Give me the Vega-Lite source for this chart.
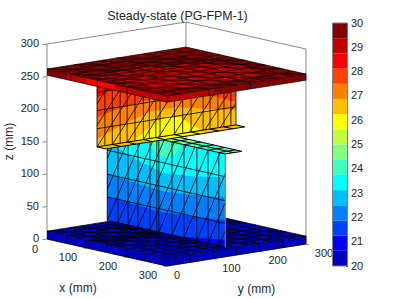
{"$schema":"https://vega.github.io/schema/vega-lite/v6.json","width":399,"height":299,"padding":0,"autosize":{"type":"none"},"background":"white","config":{"view":{"stroke":null}},
"title":{"text":"Steady-state (PG-FPM-1)","font":"Liberation Sans","fontSize":12.4,"fontWeight":"normal","color":"#262626","offset":-22,"dx":-22,"anchor":"middle"},
"data":{"values":[
{"g":"box","id":"b1","x":0,"y":300,"z":0},{"g":"box","id":"b1","x":0,"y":300,"z":300},
{"g":"box","id":"b2","x":0,"y":0,"z":0},{"g":"box","id":"b2","x":0,"y":0,"z":300},{"g":"box","id":"b2","x":0,"y":300,"z":300},{"g":"box","id":"b2","x":300,"y":300,"z":300},{"g":"box","id":"b2","x":300,"y":300,"z":0},{"g":"box","id":"b2","x":300,"y":0,"z":0},{"g":"box","id":"b2","x":0,"y":0,"z":0},
{"g":"box","id":"z0","x":0,"y":-10,"z":0},{"g":"box","id":"z0","x":0,"y":0,"z":0},{"g":"box","id":"z1","x":0,"y":-10,"z":50},{"g":"box","id":"z1","x":0,"y":0,"z":50},{"g":"box","id":"z2","x":0,"y":-10,"z":100},{"g":"box","id":"z2","x":0,"y":0,"z":100},{"g":"box","id":"z3","x":0,"y":-10,"z":150},{"g":"box","id":"z3","x":0,"y":0,"z":150},{"g":"box","id":"z4","x":0,"y":-10,"z":200},{"g":"box","id":"z4","x":0,"y":0,"z":200},{"g":"box","id":"z5","x":0,"y":-10,"z":250},{"g":"box","id":"z5","x":0,"y":0,"z":250},{"g":"box","id":"z6","x":0,"y":-10,"z":300},{"g":"box","id":"z6","x":0,"y":0,"z":300},
{"g":"box","id":"x1","x":100,"y":-7,"z":0},{"g":"box","id":"x1","x":100,"y":0,"z":0},{"g":"box","id":"x2","x":200,"y":-7,"z":0},{"g":"box","id":"x2","x":200,"y":0,"z":0},{"g":"box","id":"x3","x":300,"y":-7,"z":0},{"g":"box","id":"x3","x":300,"y":0,"z":0},
{"g":"box","id":"y1","x":308,"y":100,"z":0},{"g":"box","id":"y1","x":300,"y":100,"z":0},{"g":"box","id":"y2","x":308,"y":200,"z":0},{"g":"box","id":"y2","x":300,"y":200,"z":0},{"g":"box","id":"y3","x":308,"y":300,"z":0},{"g":"box","id":"y3","x":300,"y":300,"z":0},

{"g":"floor","id":"s1","band":1,"x":0,"y":0,"z":0},{"g":"floor","id":"s1","band":1,"x":300,"y":0,"z":0},{"g":"floor","id":"s1","band":1,"x":300,"y":0,"z":12},{"g":"floor","id":"s1","band":1,"x":0,"y":0,"z":12},
{"g":"floor","id":"s2","band":1,"x":300,"y":0,"z":0},{"g":"floor","id":"s2","band":1,"x":300,"y":300,"z":0},{"g":"floor","id":"s2","band":1,"x":300,"y":300,"z":12},{"g":"floor","id":"s2","band":1,"x":300,"y":0,"z":12},
{"g":"floor","id":"t","band":1,"x":0,"y":0,"z":12},{"g":"floor","id":"t","band":1,"x":300,"y":0,"z":12},{"g":"floor","id":"t","band":1,"x":300,"y":300,"z":12},{"g":"floor","id":"t","band":1,"x":0,"y":300,"z":12},
{"g":"floor","id":"p","band":2,"x":220,"y":100,"z":12},{"g":"floor","id":"p","band":2,"x":300,"y":100,"z":12},{"g":"floor","id":"p","band":2,"x":300,"y":165,"z":12},{"g":"floor","id":"p","band":2,"x":220,"y":165,"z":12},

{"g":"fm","id":"x0","x":0,"y":0,"z":12},{"g":"fm","id":"x0","x":0,"y":300,"z":12},{"g":"fm","id":"x25","x":25,"y":0,"z":12},{"g":"fm","id":"x25","x":25,"y":300,"z":12},{"g":"fm","id":"x50","x":50,"y":0,"z":12},{"g":"fm","id":"x50","x":50,"y":300,"z":12},{"g":"fm","id":"x75","x":75,"y":0,"z":12},{"g":"fm","id":"x75","x":75,"y":300,"z":12},{"g":"fm","id":"x100","x":100,"y":0,"z":12},{"g":"fm","id":"x100","x":100,"y":300,"z":12},{"g":"fm","id":"x115","x":115,"y":0,"z":12},{"g":"fm","id":"x115","x":115,"y":300,"z":12},{"g":"fm","id":"x125","x":125,"y":0,"z":12},{"g":"fm","id":"x125","x":125,"y":300,"z":12},{"g":"fm","id":"x135","x":135,"y":0,"z":12},{"g":"fm","id":"x135","x":135,"y":300,"z":12},{"g":"fm","id":"x150","x":150,"y":0,"z":12},{"g":"fm","id":"x150","x":150,"y":300,"z":12},{"g":"fm","id":"x175","x":175,"y":0,"z":12},{"g":"fm","id":"x175","x":175,"y":300,"z":12},{"g":"fm","id":"x200","x":200,"y":0,"z":12},{"g":"fm","id":"x200","x":200,"y":300,"z":12},{"g":"fm","id":"x225","x":225,"y":0,"z":12},{"g":"fm","id":"x225","x":225,"y":300,"z":12},{"g":"fm","id":"x250","x":250,"y":0,"z":12},{"g":"fm","id":"x250","x":250,"y":300,"z":12},{"g":"fm","id":"x275","x":275,"y":0,"z":12},{"g":"fm","id":"x275","x":275,"y":300,"z":12},{"g":"fm","id":"x300","x":300,"y":0,"z":12},{"g":"fm","id":"x300","x":300,"y":300,"z":12},
{"g":"fm","id":"y0","x":0,"y":0,"z":12},{"g":"fm","id":"y0","x":300,"y":0,"z":12},{"g":"fm","id":"y25","x":0,"y":25,"z":12},{"g":"fm","id":"y25","x":300,"y":25,"z":12},{"g":"fm","id":"y50","x":0,"y":50,"z":12},{"g":"fm","id":"y50","x":300,"y":50,"z":12},{"g":"fm","id":"y75","x":0,"y":75,"z":12},{"g":"fm","id":"y75","x":300,"y":75,"z":12},{"g":"fm","id":"y100","x":0,"y":100,"z":12},{"g":"fm","id":"y100","x":300,"y":100,"z":12},{"g":"fm","id":"y115","x":0,"y":115,"z":12},{"g":"fm","id":"y115","x":300,"y":115,"z":12},{"g":"fm","id":"y125","x":0,"y":125,"z":12},{"g":"fm","id":"y125","x":300,"y":125,"z":12},{"g":"fm","id":"y135","x":0,"y":135,"z":12},{"g":"fm","id":"y135","x":300,"y":135,"z":12},{"g":"fm","id":"y150","x":0,"y":150,"z":12},{"g":"fm","id":"y150","x":300,"y":150,"z":12},{"g":"fm","id":"y175","x":0,"y":175,"z":12},{"g":"fm","id":"y175","x":300,"y":175,"z":12},{"g":"fm","id":"y200","x":0,"y":200,"z":12},{"g":"fm","id":"y200","x":300,"y":200,"z":12},{"g":"fm","id":"y225","x":0,"y":225,"z":12},{"g":"fm","id":"y225","x":300,"y":225,"z":12},{"g":"fm","id":"y250","x":0,"y":250,"z":12},{"g":"fm","id":"y250","x":300,"y":250,"z":12},{"g":"fm","id":"y275","x":0,"y":275,"z":12},{"g":"fm","id":"y275","x":300,"y":275,"z":12},{"g":"fm","id":"y300","x":0,"y":300,"z":12},{"g":"fm","id":"y300","x":300,"y":300,"z":12},
{"g":"fm","id":"d1","x":0,"y":50,"z":12},{"g":"fm","id":"d1","x":250,"y":300,"z":12},{"g":"fm","id":"d2","x":0,"y":150,"z":12},{"g":"fm","id":"d2","x":150,"y":300,"z":12},{"g":"fm","id":"d3","x":50,"y":0,"z":12},{"g":"fm","id":"d3","x":300,"y":250,"z":12},{"g":"fm","id":"d4","x":150,"y":0,"z":12},{"g":"fm","id":"d4","x":300,"y":150,"z":12},{"g":"fm","id":"d5","x":0,"y":0,"z":12},{"g":"fm","id":"d5","x":300,"y":300,"z":12},{"g":"fm","id":"d6","x":100,"y":0,"z":12},{"g":"fm","id":"d6","x":300,"y":200,"z":12},
{"g":"fm","id":"e1","x":0,"y":0,"z":0},{"g":"fm","id":"e1","x":300,"y":0,"z":0},{"g":"fm","id":"e1","x":300,"y":300,"z":0},{"g":"fm","id":"e1","x":300,"y":300,"z":12},
{"g":"fm","id":"v1","x":50,"y":0,"z":0},{"g":"fm","id":"v1","x":50,"y":0,"z":12},{"g":"fm","id":"v2","x":100,"y":0,"z":0},{"g":"fm","id":"v2","x":100,"y":0,"z":12},{"g":"fm","id":"v3","x":150,"y":0,"z":0},{"g":"fm","id":"v3","x":150,"y":0,"z":12},{"g":"fm","id":"v4","x":200,"y":0,"z":0},{"g":"fm","id":"v4","x":200,"y":0,"z":12},{"g":"fm","id":"v5","x":250,"y":0,"z":0},{"g":"fm","id":"v5","x":250,"y":0,"z":12},{"g":"fm","id":"v6","x":300,"y":0,"z":0},{"g":"fm","id":"v6","x":300,"y":0,"z":12},
{"g":"fm","id":"w1","x":300,"y":50,"z":0},{"g":"fm","id":"w1","x":300,"y":50,"z":12},{"g":"fm","id":"w2","x":300,"y":100,"z":0},{"g":"fm","id":"w2","x":300,"y":100,"z":12},{"g":"fm","id":"w3","x":300,"y":150,"z":0},{"g":"fm","id":"w3","x":300,"y":150,"z":12},{"g":"fm","id":"w4","x":300,"y":200,"z":0},{"g":"fm","id":"w4","x":300,"y":200,"z":12},{"g":"fm","id":"w5","x":300,"y":250,"z":0},{"g":"fm","id":"w5","x":300,"y":250,"z":12},

{"g":"low","id":"b3","band":3,"x":0,"y":130,"z":14},{"g":"low","id":"b3","band":3,"x":295,"y":130,"z":14},{"g":"low","id":"b3","band":3,"x":295,"y":130,"z":157},{"g":"low","id":"b3","band":3,"x":0,"y":130,"z":157},
{"g":"low","id":"b2","band":2,"x":180,"y":130,"z":14},{"g":"low","id":"b2","band":2,"x":295,"y":130,"z":14},{"g":"low","id":"b2","band":2,"x":295,"y":130,"z":25},
{"g":"low","id":"b4","band":4,"x":0,"y":130,"z":50},{"g":"low","id":"b4","band":4,"x":70,"y":130,"z":48},{"g":"low","id":"b4","band":4,"x":140,"y":130,"z":46},{"g":"low","id":"b4","band":4,"x":220,"y":130,"z":50},{"g":"low","id":"b4","band":4,"x":295,"y":130,"z":55},{"g":"low","id":"b4","band":4,"x":295,"y":130,"z":157},{"g":"low","id":"b4","band":4,"x":0,"y":130,"z":157},
{"g":"low","id":"b5","band":5,"x":0,"y":130,"z":87},{"g":"low","id":"b5","band":5,"x":70,"y":130,"z":81},{"g":"low","id":"b5","band":5,"x":140,"y":130,"z":78},{"g":"low","id":"b5","band":5,"x":220,"y":130,"z":83},{"g":"low","id":"b5","band":5,"x":295,"y":130,"z":90},{"g":"low","id":"b5","band":5,"x":295,"y":130,"z":157},{"g":"low","id":"b5","band":5,"x":0,"y":130,"z":157},
{"g":"low","id":"b6","band":6,"x":0,"y":130,"z":135},{"g":"low","id":"b6","band":6,"x":70,"y":130,"z":118},{"g":"low","id":"b6","band":6,"x":140,"y":130,"z":106},{"g":"low","id":"b6","band":6,"x":220,"y":130,"z":112},{"g":"low","id":"b6","band":6,"x":295,"y":130,"z":121},{"g":"low","id":"b6","band":6,"x":295,"y":130,"z":157},{"g":"low","id":"b6","band":6,"x":0,"y":130,"z":157},
{"g":"low","id":"b7","band":7,"x":95,"y":130,"z":157},{"g":"low","id":"b7","band":7,"x":115,"y":130,"z":138},{"g":"low","id":"b7","band":7,"x":140,"y":130,"z":129},{"g":"low","id":"b7","band":7,"x":165,"y":130,"z":135},{"g":"low","id":"b7","band":7,"x":190,"y":130,"z":157},

{"g":"lm","id":"v0","x":0,"y":130,"z":14},{"g":"lm","id":"v0","x":0,"y":130,"z":157},{"g":"lm","id":"v1","x":27,"y":130,"z":14},{"g":"lm","id":"v1","x":27,"y":130,"z":157},{"g":"lm","id":"v2","x":52,"y":130,"z":14},{"g":"lm","id":"v2","x":52,"y":130,"z":157},{"g":"lm","id":"v3","x":77,"y":130,"z":14},{"g":"lm","id":"v3","x":77,"y":130,"z":157},{"g":"lm","id":"v4","x":107,"y":130,"z":14},{"g":"lm","id":"v4","x":107,"y":130,"z":157},{"g":"lm","id":"v5","x":124,"y":130,"z":14},{"g":"lm","id":"v5","x":124,"y":130,"z":157},{"g":"lm","id":"v6","x":129,"y":130,"z":14},{"g":"lm","id":"v6","x":129,"y":130,"z":157},{"g":"lm","id":"v7","x":162,"y":130,"z":14},{"g":"lm","id":"v7","x":162,"y":130,"z":157},{"g":"lm","id":"v8","x":192,"y":130,"z":14},{"g":"lm","id":"v8","x":192,"y":130,"z":157},{"g":"lm","id":"v9","x":224,"y":130,"z":14},{"g":"lm","id":"v9","x":224,"y":130,"z":157},{"g":"lm","id":"v10","x":252,"y":130,"z":14},{"g":"lm","id":"v10","x":252,"y":130,"z":157},{"g":"lm","id":"v11","x":279,"y":130,"z":14},{"g":"lm","id":"v11","x":279,"y":130,"z":157},
{"g":"lm","id":"h1","x":0,"y":130,"z":14},{"g":"lm","id":"h1","x":295,"y":130,"z":14},{"g":"lm","id":"h2","x":0,"y":130,"z":50},{"g":"lm","id":"h2","x":295,"y":130,"z":50},{"g":"lm","id":"h3","x":0,"y":130,"z":85},{"g":"lm","id":"h3","x":295,"y":130,"z":85},{"g":"lm","id":"h4","x":0,"y":130,"z":122},{"g":"lm","id":"h4","x":295,"y":130,"z":122},
{"g":"lm","id":"d1","x":0,"y":130,"z":109},{"g":"lm","id":"d1","x":30,"y":130,"z":157},{"g":"lm","id":"d2","x":0,"y":130,"z":62},{"g":"lm","id":"d2","x":60,"y":130,"z":157},{"g":"lm","id":"d3","x":0,"y":130,"z":14},{"g":"lm","id":"d3","x":90,"y":130,"z":157},{"g":"lm","id":"d4","x":27,"y":130,"z":14},{"g":"lm","id":"d4","x":117,"y":130,"z":157},{"g":"lm","id":"d5","x":52,"y":130,"z":14},{"g":"lm","id":"d5","x":142,"y":130,"z":157},{"g":"lm","id":"d6","x":77,"y":130,"z":14},{"g":"lm","id":"d6","x":167,"y":130,"z":157},{"g":"lm","id":"d7","x":107,"y":130,"z":14},{"g":"lm","id":"d7","x":197,"y":130,"z":157},{"g":"lm","id":"d8","x":129,"y":130,"z":14},{"g":"lm","id":"d8","x":219,"y":130,"z":157},{"g":"lm","id":"d9","x":162,"y":130,"z":14},{"g":"lm","id":"d9","x":252,"y":130,"z":157},{"g":"lm","id":"d10","x":192,"y":130,"z":14},{"g":"lm","id":"d10","x":282,"y":130,"z":157},{"g":"lm","id":"d11","x":224,"y":130,"z":14},{"g":"lm","id":"d11","x":295,"y":130,"z":127},{"g":"lm","id":"d12","x":252,"y":130,"z":14},{"g":"lm","id":"d12","x":295,"y":130,"z":82},{"g":"lm","id":"d13","x":279,"y":130,"z":14},{"g":"lm","id":"d13","x":295,"y":130,"z":39},
{"g":"edge","id":"r","x":295,"y":130,"z":14},{"g":"edge","id":"r","x":295,"y":130,"z":157},

{"g":"lp","id":"a","band":8,"x":0,"y":130,"z":157},{"g":"lp","id":"a","band":8,"x":190,"y":130,"z":157},{"g":"lp","id":"a","band":8,"x":190,"y":166,"z":157},{"g":"lp","id":"a","band":8,"x":0,"y":166,"z":157},
{"g":"lp","id":"b","band":7,"x":190,"y":130,"z":157},{"g":"lp","id":"b","band":7,"x":295,"y":130,"z":157},{"g":"lp","id":"b","band":7,"x":295,"y":166,"z":157},{"g":"lp","id":"b","band":7,"x":190,"y":166,"z":157},
{"g":"lpm","id":"o","x":0,"y":130,"z":157},{"g":"lpm","id":"o","x":295,"y":130,"z":157},{"g":"lpm","id":"o","x":295,"y":166,"z":157},{"g":"lpm","id":"o","x":0,"y":166,"z":157},
{"g":"lpm","id":"m","x":0,"y":148,"z":157},{"g":"lpm","id":"m","x":295,"y":148,"z":157},
{"g":"lpm","id":"c1","x":162,"y":130,"z":157},{"g":"lpm","id":"c1","x":162,"y":166,"z":157},{"g":"lpm","id":"c2","x":192,"y":130,"z":157},{"g":"lpm","id":"c2","x":192,"y":166,"z":157},{"g":"lpm","id":"c3","x":224,"y":130,"z":157},{"g":"lpm","id":"c3","x":224,"y":166,"z":157},{"g":"lpm","id":"c4","x":252,"y":130,"z":157},{"g":"lpm","id":"c4","x":252,"y":166,"z":157},{"g":"lpm","id":"c5","x":279,"y":130,"z":157},{"g":"lpm","id":"c5","x":279,"y":166,"z":157},

{"g":"up","id":"b13","band":13,"x":125,"y":0,"z":159},{"g":"up","id":"b13","band":13,"x":125,"y":300,"z":159},{"g":"up","id":"b13","band":13,"x":125,"y":300,"z":252},{"g":"up","id":"b13","band":13,"x":125,"y":0,"z":252},
{"g":"up","id":"b14","band":14,"x":125,"y":0,"z":252},{"g":"up","id":"b14","band":14,"x":125,"y":60,"z":252},{"g":"up","id":"b14","band":14,"x":125,"y":0,"z":235},
{"g":"up","id":"b12","band":12,"x":125,"y":0,"z":159},{"g":"up","id":"b12","band":12,"x":125,"y":300,"z":159},{"g":"up","id":"b12","band":12,"x":125,"y":300,"z":194},{"g":"up","id":"b12","band":12,"x":125,"y":255,"z":208},{"g":"up","id":"b12","band":12,"x":125,"y":170,"z":218},{"g":"up","id":"b12","band":12,"x":125,"y":100,"z":218},{"g":"up","id":"b12","band":12,"x":125,"y":50,"z":213},{"g":"up","id":"b12","band":12,"x":125,"y":0,"z":205},
{"g":"up","id":"b11","band":11,"x":125,"y":0,"z":159},{"g":"up","id":"b11","band":11,"x":125,"y":300,"z":159},{"g":"up","id":"b11","band":11,"x":125,"y":300,"z":182},{"g":"up","id":"b11","band":11,"x":125,"y":255,"z":188},{"g":"up","id":"b11","band":11,"x":125,"y":168,"z":201},{"g":"up","id":"b11","band":11,"x":125,"y":112,"z":200},{"g":"up","id":"b11","band":11,"x":125,"y":50,"z":185},{"g":"up","id":"b11","band":11,"x":125,"y":0,"z":171},
{"g":"up","id":"b10","band":10,"x":125,"y":78,"z":159},{"g":"up","id":"b10","band":10,"x":125,"y":125,"z":183},{"g":"up","id":"b10","band":10,"x":125,"y":157,"z":190},{"g":"up","id":"b10","band":10,"x":125,"y":180,"z":184},{"g":"up","id":"b10","band":10,"x":125,"y":205,"z":170},{"g":"up","id":"b10","band":10,"x":125,"y":225,"z":159},

{"g":"um","id":"v0","x":125,"y":0,"z":159},{"g":"um","id":"v0","x":125,"y":0,"z":252},{"g":"um","id":"v1","x":125,"y":17,"z":159},{"g":"um","id":"v1","x":125,"y":17,"z":252},{"g":"um","id":"v2","x":125,"y":33,"z":159},{"g":"um","id":"v2","x":125,"y":33,"z":252},{"g":"um","id":"v3","x":125,"y":50,"z":159},{"g":"um","id":"v3","x":125,"y":50,"z":252},{"g":"um","id":"v4","x":125,"y":65,"z":159},{"g":"um","id":"v4","x":125,"y":65,"z":252},{"g":"um","id":"v5","x":125,"y":82,"z":159},{"g":"um","id":"v5","x":125,"y":82,"z":252},{"g":"um","id":"v6","x":125,"y":100,"z":159},{"g":"um","id":"v6","x":125,"y":100,"z":252},{"g":"um","id":"v7","x":125,"y":113,"z":159},{"g":"um","id":"v7","x":125,"y":113,"z":252},{"g":"um","id":"v8","x":125,"y":127,"z":159},{"g":"um","id":"v8","x":125,"y":127,"z":252},{"g":"um","id":"v9","x":125,"y":136,"z":159},{"g":"um","id":"v9","x":125,"y":136,"z":252},{"g":"um","id":"v10","x":125,"y":167,"z":159},{"g":"um","id":"v10","x":125,"y":167,"z":252},{"g":"um","id":"v11","x":125,"y":185,"z":159},{"g":"um","id":"v11","x":125,"y":185,"z":252},{"g":"um","id":"v12","x":125,"y":203,"z":159},{"g":"um","id":"v12","x":125,"y":203,"z":252},{"g":"um","id":"v13","x":125,"y":229,"z":159},{"g":"um","id":"v13","x":125,"y":229,"z":252},{"g":"um","id":"v14","x":125,"y":244,"z":159},{"g":"um","id":"v14","x":125,"y":244,"z":252},{"g":"um","id":"v15","x":125,"y":261,"z":159},{"g":"um","id":"v15","x":125,"y":261,"z":252},{"g":"um","id":"v16","x":125,"y":274,"z":159},{"g":"um","id":"v16","x":125,"y":274,"z":252},{"g":"um","id":"v17","x":125,"y":289,"z":159},{"g":"um","id":"v17","x":125,"y":289,"z":252},{"g":"um","id":"v18","x":125,"y":300,"z":159},{"g":"um","id":"v18","x":125,"y":300,"z":252},
{"g":"um","id":"h1","x":125,"y":0,"z":187},{"g":"um","id":"h1","x":125,"y":300,"z":187},{"g":"um","id":"h2","x":125,"y":0,"z":215},{"g":"um","id":"h2","x":125,"y":300,"z":215},{"g":"um","id":"h3","x":125,"y":0,"z":243},{"g":"um","id":"h3","x":125,"y":300,"z":243},
{"g":"um","id":"d1","x":125,"y":0,"z":225},{"g":"um","id":"d1","x":125,"y":27,"z":252},{"g":"um","id":"d2","x":125,"y":0,"z":192},{"g":"um","id":"d2","x":125,"y":60,"z":252},{"g":"um","id":"d3","x":125,"y":0,"z":159},{"g":"um","id":"d3","x":125,"y":93,"z":252},{"g":"um","id":"d4","x":125,"y":33,"z":159},{"g":"um","id":"d4","x":125,"y":126,"z":252},{"g":"um","id":"d5","x":125,"y":66,"z":159},{"g":"um","id":"d5","x":125,"y":159,"z":252},{"g":"um","id":"d6","x":125,"y":100,"z":159},{"g":"um","id":"d6","x":125,"y":193,"z":252},{"g":"um","id":"d7","x":125,"y":133,"z":159},{"g":"um","id":"d7","x":125,"y":226,"z":252},{"g":"um","id":"d8","x":125,"y":166,"z":159},{"g":"um","id":"d8","x":125,"y":259,"z":252},{"g":"um","id":"d9","x":125,"y":200,"z":159},{"g":"um","id":"d9","x":125,"y":293,"z":252},{"g":"um","id":"d10","x":125,"y":233,"z":159},{"g":"um","id":"d10","x":125,"y":300,"z":226},{"g":"um","id":"d11","x":125,"y":266,"z":159},{"g":"um","id":"d11","x":125,"y":300,"z":193},

{"g":"fl","id":"a","band":11,"x":125,"y":0,"z":159},{"g":"fl","id":"a","band":11,"x":147,"y":0,"z":159},{"g":"fl","id":"a","band":11,"x":147,"y":300,"z":159},{"g":"fl","id":"a","band":11,"x":125,"y":300,"z":159},
{"g":"fl","id":"b","band":10,"x":125,"y":95,"z":159},{"g":"fl","id":"b","band":10,"x":147,"y":95,"z":159},{"g":"fl","id":"b","band":10,"x":147,"y":215,"z":159},{"g":"fl","id":"b","band":10,"x":125,"y":215,"z":159},
{"g":"flm","id":"o","x":125,"y":0,"z":159},{"g":"flm","id":"o","x":147,"y":0,"z":159},{"g":"flm","id":"o","x":147,"y":300,"z":159},{"g":"flm","id":"o","x":125,"y":300,"z":159},{"g":"flm","id":"o","x":125,"y":0,"z":159},
{"g":"flm","id":"c1","x":125,"y":33,"z":159},{"g":"flm","id":"c1","x":147,"y":33,"z":159},{"g":"flm","id":"c2","x":125,"y":65,"z":159},{"g":"flm","id":"c2","x":147,"y":65,"z":159},{"g":"flm","id":"c3","x":125,"y":100,"z":159},{"g":"flm","id":"c3","x":147,"y":100,"z":159},{"g":"flm","id":"c4","x":125,"y":127,"z":159},{"g":"flm","id":"c4","x":147,"y":127,"z":159},{"g":"flm","id":"c5","x":125,"y":167,"z":159},{"g":"flm","id":"c5","x":147,"y":167,"z":159},{"g":"flm","id":"c6","x":125,"y":203,"z":159},{"g":"flm","id":"c6","x":147,"y":203,"z":159},{"g":"flm","id":"c7","x":125,"y":244,"z":159},{"g":"flm","id":"c7","x":147,"y":244,"z":159},{"g":"flm","id":"c8","x":125,"y":274,"z":159},{"g":"flm","id":"c8","x":147,"y":274,"z":159},

{"g":"slab","id":"s1","band":16,"x":0,"y":0,"z":252},{"g":"slab","id":"s1","band":16,"x":50,"y":0,"z":252},{"g":"slab","id":"s1","band":16,"x":50,"y":0,"z":261.5},{"g":"slab","id":"s1","band":16,"x":0,"y":0,"z":261.5},
{"g":"slab","id":"s2","band":15,"x":50,"y":0,"z":252},{"g":"slab","id":"s2","band":15,"x":300,"y":0,"z":252},{"g":"slab","id":"s2","band":15,"x":300,"y":0,"z":261.5},{"g":"slab","id":"s2","band":15,"x":50,"y":0,"z":261.5},
{"g":"slab","id":"s3","band":14,"x":100,"y":0,"z":252},{"g":"slab","id":"s3","band":14,"x":170,"y":0,"z":252},{"g":"slab","id":"s3","band":14,"x":170,"y":0,"z":261.5},{"g":"slab","id":"s3","band":14,"x":100,"y":0,"z":261.5},
{"g":"slab","id":"s4","band":15,"x":300,"y":0,"z":252},{"g":"slab","id":"s4","band":15,"x":300,"y":100,"z":252},{"g":"slab","id":"s4","band":15,"x":300,"y":100,"z":261.5},{"g":"slab","id":"s4","band":15,"x":300,"y":0,"z":261.5},
{"g":"slab","id":"s5","band":16,"x":300,"y":100,"z":252},{"g":"slab","id":"s5","band":16,"x":300,"y":300,"z":252},{"g":"slab","id":"s5","band":16,"x":300,"y":300,"z":261.5},{"g":"slab","id":"s5","band":16,"x":300,"y":100,"z":261.5},
{"g":"slab","id":"t","band":16,"x":0,"y":0,"z":261.5},{"g":"slab","id":"t","band":16,"x":300,"y":0,"z":261.5},{"g":"slab","id":"t","band":16,"x":300,"y":300,"z":261.5},{"g":"slab","id":"t","band":16,"x":0,"y":300,"z":261.5},
{"g":"slab","id":"h","band":15,"x":100,"y":20,"z":261.5},{"g":"slab","id":"h","band":15,"x":90,"y":120,"z":261.5},{"g":"slab","id":"h","band":15,"x":110,"y":220,"z":261.5},{"g":"slab","id":"h","band":15,"x":180,"y":265,"z":261.5},{"g":"slab","id":"h","band":15,"x":260,"y":240,"z":261.5},{"g":"slab","id":"h","band":15,"x":270,"y":100,"z":261.5},{"g":"slab","id":"h","band":15,"x":250,"y":20,"z":261.5},

{"g":"sm","id":"x0","x":0,"y":0,"z":261.5},{"g":"sm","id":"x0","x":0,"y":300,"z":261.5},{"g":"sm","id":"x30","x":30,"y":0,"z":261.5},{"g":"sm","id":"x30","x":30,"y":300,"z":261.5},{"g":"sm","id":"x60","x":60,"y":0,"z":261.5},{"g":"sm","id":"x60","x":60,"y":300,"z":261.5},{"g":"sm","id":"x85","x":85,"y":0,"z":261.5},{"g":"sm","id":"x85","x":85,"y":300,"z":261.5},{"g":"sm","id":"x105","x":105,"y":0,"z":261.5},{"g":"sm","id":"x105","x":105,"y":300,"z":261.5},{"g":"sm","id":"x125","x":125,"y":0,"z":261.5},{"g":"sm","id":"x125","x":125,"y":300,"z":261.5},{"g":"sm","id":"x145","x":145,"y":0,"z":261.5},{"g":"sm","id":"x145","x":145,"y":300,"z":261.5},{"g":"sm","id":"x170","x":170,"y":0,"z":261.5},{"g":"sm","id":"x170","x":170,"y":300,"z":261.5},{"g":"sm","id":"x200","x":200,"y":0,"z":261.5},{"g":"sm","id":"x200","x":200,"y":300,"z":261.5},{"g":"sm","id":"x235","x":235,"y":0,"z":261.5},{"g":"sm","id":"x235","x":235,"y":300,"z":261.5},{"g":"sm","id":"x270","x":270,"y":0,"z":261.5},{"g":"sm","id":"x270","x":270,"y":300,"z":261.5},{"g":"sm","id":"x300","x":300,"y":0,"z":261.5},{"g":"sm","id":"x300","x":300,"y":300,"z":261.5},
{"g":"sm","id":"y0","x":0,"y":0,"z":261.5},{"g":"sm","id":"y0","x":300,"y":0,"z":261.5},{"g":"sm","id":"y30","x":0,"y":30,"z":261.5},{"g":"sm","id":"y30","x":300,"y":30,"z":261.5},{"g":"sm","id":"y60","x":0,"y":60,"z":261.5},{"g":"sm","id":"y60","x":300,"y":60,"z":261.5},{"g":"sm","id":"y90","x":0,"y":90,"z":261.5},{"g":"sm","id":"y90","x":300,"y":90,"z":261.5},{"g":"sm","id":"y120","x":0,"y":120,"z":261.5},{"g":"sm","id":"y120","x":300,"y":120,"z":261.5},{"g":"sm","id":"y150","x":0,"y":150,"z":261.5},{"g":"sm","id":"y150","x":300,"y":150,"z":261.5},{"g":"sm","id":"y180","x":0,"y":180,"z":261.5},{"g":"sm","id":"y180","x":300,"y":180,"z":261.5},{"g":"sm","id":"y210","x":0,"y":210,"z":261.5},{"g":"sm","id":"y210","x":300,"y":210,"z":261.5},{"g":"sm","id":"y240","x":0,"y":240,"z":261.5},{"g":"sm","id":"y240","x":300,"y":240,"z":261.5},{"g":"sm","id":"y270","x":0,"y":270,"z":261.5},{"g":"sm","id":"y270","x":300,"y":270,"z":261.5},{"g":"sm","id":"y300","x":0,"y":300,"z":261.5},{"g":"sm","id":"y300","x":300,"y":300,"z":261.5},
{"g":"sm","id":"d1","x":0,"y":60,"z":261.5},{"g":"sm","id":"d1","x":240,"y":300,"z":261.5},{"g":"sm","id":"d2","x":0,"y":150,"z":261.5},{"g":"sm","id":"d2","x":150,"y":300,"z":261.5},{"g":"sm","id":"d3","x":60,"y":0,"z":261.5},{"g":"sm","id":"d3","x":300,"y":240,"z":261.5},{"g":"sm","id":"d4","x":150,"y":0,"z":261.5},{"g":"sm","id":"d4","x":300,"y":150,"z":261.5},{"g":"sm","id":"d5","x":0,"y":0,"z":261.5},{"g":"sm","id":"d5","x":300,"y":300,"z":261.5},{"g":"sm","id":"d6","x":105,"y":0,"z":261.5},{"g":"sm","id":"d6","x":300,"y":195,"z":261.5},{"g":"sm","id":"d7","x":200,"y":0,"z":261.5},{"g":"sm","id":"d7","x":300,"y":100,"z":261.5},{"g":"sm","id":"d8","x":0,"y":105,"z":261.5},{"g":"sm","id":"d8","x":195,"y":300,"z":261.5},
{"g":"sm","id":"e","x":0,"y":0,"z":252},{"g":"sm","id":"e","x":300,"y":0,"z":252},{"g":"sm","id":"e","x":300,"y":300,"z":252},
{"g":"sm","id":"v1","x":60,"y":0,"z":252},{"g":"sm","id":"v1","x":60,"y":0,"z":261.5},{"g":"sm","id":"v2","x":125,"y":0,"z":252},{"g":"sm","id":"v2","x":125,"y":0,"z":261.5},{"g":"sm","id":"v3","x":200,"y":0,"z":252},{"g":"sm","id":"v3","x":200,"y":0,"z":261.5},{"g":"sm","id":"v4","x":300,"y":0,"z":252},{"g":"sm","id":"v4","x":300,"y":0,"z":261.5},{"g":"sm","id":"v5","x":300,"y":90,"z":252},{"g":"sm","id":"v5","x":300,"y":90,"z":261.5},{"g":"sm","id":"v6","x":300,"y":180,"z":252},{"g":"sm","id":"v6","x":300,"y":180,"z":261.5},{"g":"sm","id":"v7","x":300,"y":300,"z":252},{"g":"sm","id":"v7","x":300,"y":300,"z":261.5},

{"g":"zl","t":"0","x":0,"y":0,"z":0},{"g":"zl","t":"50","x":0,"y":0,"z":50},{"g":"zl","t":"100","x":0,"y":0,"z":100},{"g":"zl","t":"150","x":0,"y":0,"z":150},{"g":"zl","t":"200","x":0,"y":0,"z":200},{"g":"zl","t":"250","x":0,"y":0,"z":250},{"g":"zl","t":"300","x":0,"y":0,"z":300},
{"g":"xl0","t":"0","x":0,"y":0,"z":0},
{"g":"xl","t":"100","x":100,"y":0,"z":0},{"g":"xl","t":"200","x":200,"y":0,"z":0},{"g":"xl","t":"300","x":300,"y":0,"z":0},
{"g":"yl0","t":"0","x":300,"y":0,"z":0},
{"g":"yl","t":"100","x":300,"y":100,"z":0},{"g":"yl","t":"200","x":300,"y":200,"z":0},{"g":"yl","t":"300","x":300,"y":300,"z":0},
{"g":"xt","t":"x (mm)","x":150,"y":0,"z":0},{"g":"yt","t":"y (mm)","x":300,"y":150,"z":0},{"g":"zt","t":"z (mm)","x":0,"y":0,"z":150}
]},
"transform":[{"window":[{"op":"row_number","as":"o"}]},{"calculate":"47+0.4*datum.x+0.4633*datum.y","as":"u"},{"calculate":"239+0.09*datum.x-0.0733*datum.y-0.65*datum.z","as":"v"}],
"encoding":{
"x":{"field":"u","type":"quantitative","axis":null,"scale":{"domain":[0,399],"range":[0,399],"nice":false,"zero":false}},
"y":{"field":"v","type":"quantitative","axis":null,"scale":{"domain":[0,299],"range":[0,299],"nice":false,"zero":false}}},
"layer":[
{"transform":[{"filter":"datum.g=='box'"}],"mark":{"type":"line","stroke":"#8a8a8a","strokeWidth":1},"encoding":{"detail":{"field":"id"},"order":{"field":"o","type":"quantitative"}}},
{"transform":[{"filter":"datum.g=='floor'"}],"mark":{"type":"line","strokeWidth":0},"encoding":{"detail":{"field":"id"},"order":{"field":"o","type":"quantitative"},"fill":{"field":"band","type":"ordinal","legend":null,"scale":{"domain":[1,2,3,4,5,6,7,8,9,10,11,12,13,14,15,16],"range":["#0000bf","#0000ff","#0040ff","#0080ff","#00bfff","#00ffff","#40ffbf","#80ff80","#bfff40","#ffff00","#ffbf00","#ff8000","#ff4000","#ff0000","#bf0000","#800000"]}}}},
{"transform":[{"filter":"datum.g=='fm'"}],"mark":{"type":"line","stroke":"#000000","strokeWidth":0.9,"opacity":0.85},"encoding":{"detail":{"field":"id"},"order":{"field":"o","type":"quantitative"}}},
{"transform":[{"filter":"datum.g=='low'"}],"mark":{"type":"line","strokeWidth":0},"encoding":{"detail":{"field":"id"},"order":{"field":"o","type":"quantitative"},"fill":{"field":"band","type":"ordinal","legend":null}}},
{"transform":[{"filter":"datum.g=='lm'"}],"mark":{"type":"line","stroke":"#000000","strokeWidth":0.9,"opacity":0.9},"encoding":{"detail":{"field":"id"},"order":{"field":"o","type":"quantitative"}}},
{"transform":[{"filter":"datum.g=='edge'"}],"mark":{"type":"line","stroke":"#808080","strokeWidth":1},"encoding":{"detail":{"field":"id"},"order":{"field":"o","type":"quantitative"}}},
{"transform":[{"filter":"datum.g=='lp'"}],"mark":{"type":"line","strokeWidth":0},"encoding":{"detail":{"field":"id"},"order":{"field":"o","type":"quantitative"},"fill":{"field":"band","type":"ordinal","legend":null}}},
{"transform":[{"filter":"datum.g=='lpm'"}],"mark":{"type":"line","stroke":"#000000","strokeWidth":1},"encoding":{"detail":{"field":"id"},"order":{"field":"o","type":"quantitative"}}},
{"transform":[{"filter":"datum.g=='up'"}],"mark":{"type":"line","strokeWidth":0},"encoding":{"detail":{"field":"id"},"order":{"field":"o","type":"quantitative"},"fill":{"field":"band","type":"ordinal","legend":null}}},
{"transform":[{"filter":"datum.g=='um'"}],"mark":{"type":"line","stroke":"#000000","strokeWidth":0.9,"opacity":0.9},"encoding":{"detail":{"field":"id"},"order":{"field":"o","type":"quantitative"}}},
{"transform":[{"filter":"datum.g=='fl'"}],"mark":{"type":"line","strokeWidth":0},"encoding":{"detail":{"field":"id"},"order":{"field":"o","type":"quantitative"},"fill":{"field":"band","type":"ordinal","legend":null}}},
{"transform":[{"filter":"datum.g=='flm'"}],"mark":{"type":"line","stroke":"#000000","strokeWidth":1},"encoding":{"detail":{"field":"id"},"order":{"field":"o","type":"quantitative"}}},
{"transform":[{"filter":"datum.g=='slab'"}],"mark":{"type":"line","strokeWidth":0},"encoding":{"detail":{"field":"id"},"order":{"field":"o","type":"quantitative"},"fill":{"field":"band","type":"ordinal","legend":null}}},
{"transform":[{"filter":"datum.g=='sm'"}],"mark":{"type":"line","stroke":"#000000","strokeWidth":0.8,"opacity":0.8},"encoding":{"detail":{"field":"id"},"order":{"field":"o","type":"quantitative"}}},
{"transform":[{"filter":"datum.g=='zl'"}],"mark":{"type":"text","align":"right","baseline":"middle","dx":-8,"font":"Liberation Sans","fontSize":11,"fill":"#262626"},"encoding":{"text":{"field":"t"}}},
{"transform":[{"filter":"datum.g=='xl0'"}],"mark":{"type":"text","align":"center","baseline":"middle","dx":-12,"dy":11,"font":"Liberation Sans","fontSize":11,"fill":"#262626"},"encoding":{"text":{"field":"t"}}},
{"transform":[{"filter":"datum.g=='xl'"}],"mark":{"type":"text","align":"center","baseline":"middle","dx":-19,"dy":10,"font":"Liberation Sans","fontSize":11,"fill":"#262626"},"encoding":{"text":{"field":"t"}}},
{"transform":[{"filter":"datum.g=='yl0'"}],"mark":{"type":"text","align":"center","baseline":"middle","dx":10,"dy":10,"font":"Liberation Sans","fontSize":11,"fill":"#262626"},"encoding":{"text":{"field":"t"}}},
{"transform":[{"filter":"datum.g=='yl'"}],"mark":{"type":"text","align":"center","baseline":"middle","dx":18,"dy":10,"font":"Liberation Sans","fontSize":11,"fill":"#262626"},"encoding":{"text":{"field":"t"}}},
{"transform":[{"filter":"datum.g=='xt'"}],"mark":{"type":"text","align":"center","baseline":"middle","dx":-29,"dy":35,"font":"Liberation Sans","fontSize":12,"fill":"#262626"},"encoding":{"text":{"field":"t"}}},
{"transform":[{"filter":"datum.g=='yt'"}],"mark":{"type":"text","align":"center","baseline":"middle","dx":20,"dy":34,"font":"Liberation Sans","fontSize":12,"fill":"#262626"},"encoding":{"text":{"field":"t"}}},
{"transform":[{"filter":"datum.g=='zt'"}],"mark":{"type":"text","align":"center","baseline":"middle","angle":270,"dx":0,"dy":-38,"font":"Liberation Sans","fontSize":12,"fill":"#262626"},"encoding":{"text":{"field":"t"}}},
{"data":{"values":[{"T0":20,"T1":20.625,"a":0,"b":1,"band":1},{"T0":20.625,"T1":21.25,"a":0,"b":1,"band":2},{"T0":21.25,"T1":21.875,"a":0,"b":1,"band":3},{"T0":21.875,"T1":22.5,"a":0,"b":1,"band":4},{"T0":22.5,"T1":23.125,"a":0,"b":1,"band":5},{"T0":23.125,"T1":23.75,"a":0,"b":1,"band":6},{"T0":23.75,"T1":24.375,"a":0,"b":1,"band":7},{"T0":24.375,"T1":25,"a":0,"b":1,"band":8},{"T0":25,"T1":25.625,"a":0,"b":1,"band":9},{"T0":25.625,"T1":26.25,"a":0,"b":1,"band":10},{"T0":26.25,"T1":26.875,"a":0,"b":1,"band":11},{"T0":26.875,"T1":27.5,"a":0,"b":1,"band":12},{"T0":27.5,"T1":28.125,"a":0,"b":1,"band":13},{"T0":28.125,"T1":28.75,"a":0,"b":1,"band":14},{"T0":28.75,"T1":29.375,"a":0,"b":1,"band":15},{"T0":29.375,"T1":30,"a":0,"b":1,"band":16}]},
"transform":[],
"layer":[
{"mark":{"type":"rect","strokeWidth":0},"encoding":{
"x":{"field":"a","type":"quantitative","axis":null,"scale":{"domain":[0,1],"range":[332.5,347.5],"nice":false,"zero":false}},"x2":{"field":"b"},
"y":{"field":"T0","type":"quantitative","scale":{"domain":[20,30],"range":[266,23],"nice":false,"zero":false},"axis":{"orient":"right","offset":-51.5,"values":[20,21,22,23,24,25,26,27,28,29,30],"title":null,"domain":false,"grid":false,"tickSize":-2,"tickColor":"#333333","labelPadding":5,"labelFont":"Liberation Sans","labelFontSize":11,"labelColor":"#262626"}},"y2":{"field":"T1"},
"fill":{"field":"band","type":"ordinal","legend":null}}},
{"data":{"values":[{"T0":20,"T1":30,"a":0,"b":1}]},"mark":{"type":"rect","fillOpacity":0,"stroke":"#808080","strokeWidth":1},"encoding":{
"x":{"field":"a","type":"quantitative","axis":null,"scale":{"domain":[0,1],"range":[332.5,347.5],"nice":false,"zero":false}},"x2":{"field":"b"},
"y":{"field":"T0","type":"quantitative","scale":{"domain":[20,30],"range":[266,23],"nice":false,"zero":false},"axis":{"orient":"right","offset":-51.5,"values":[20,21,22,23,24,25,26,27,28,29,30],"title":null,"domain":false,"grid":false,"tickSize":-2,"tickColor":"#333333","labelPadding":5,"labelFont":"Liberation Sans","labelFontSize":11,"labelColor":"#262626"}},"y2":{"field":"T1"}}}]}
],
"resolve":{"scale":{"x":"independent","y":"independent"}}
}
